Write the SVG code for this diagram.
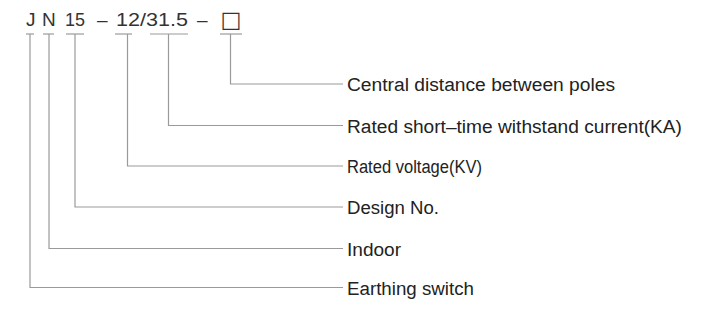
<svg xmlns="http://www.w3.org/2000/svg" width="701" height="316" viewBox="0 0 701 316">
<style>
.code{font-family:"Liberation Sans",Arial,sans-serif;font-size:19px;fill:#333}
.lbl{font-family:"Liberation Sans",Arial,sans-serif;font-size:18px;fill:#222}
.ul{stroke:#9a9a9a;stroke-width:1.2;fill:none}
.cn{stroke:#9a9a9a;stroke-width:1.2;fill:none}
</style>
<rect width="701" height="316" fill="#fff"/>
<g id="code-J"><text class="code" x="26" y="26">J</text><line class="ul" x1="26" y1="34" x2="34" y2="34"/></g>
<g id="code-N"><text class="code" x="42" y="26">N</text><line class="ul" x1="43" y1="34" x2="54" y2="34"/></g>
<g id="code-15"><text class="code" x="65" y="26" textLength="20" lengthAdjust="spacingAndGlyphs">15</text><line class="ul" x1="66" y1="34" x2="84" y2="34"/></g>
<text class="code" x="97" y="26">–</text>
<g id="code-12"><text class="code" x="116" y="26" textLength="72" lengthAdjust="spacingAndGlyphs">12/31.5</text><line class="ul" x1="115" y1="34" x2="132" y2="34"/></g>
<g id="code-31-5"><line class="ul" x1="150" y1="34" x2="188" y2="34"/></g>
<text class="code" x="197" y="26">–</text>
<g id="code-box"><text x="231" y="27" text-anchor="middle" style="font-family:'DejaVu Sans',sans-serif;font-size:22px;fill:#333">□</text><line class="ul" x1="220" y1="34" x2="242" y2="34"/></g>

<g id="connectors">
<polyline class="cn" points="230.5,34 230.5,84 343,84"/>
<polyline class="cn" points="168.5,34 168.5,125.5 343,125.5"/>
<polyline class="cn" points="127.5,34 127.5,166 343,166"/>
<polyline class="cn" points="75,34 75,207 343,207"/>
<polyline class="cn" points="49,34 49,248.5 343,248.5"/>
<polyline class="cn" points="30,34 30,287.5 343,287.5"/>
</g>

<g id="label-poles"><text class="lbl" x="347" y="91" textLength="268" lengthAdjust="spacingAndGlyphs">Central distance between poles</text></g>
<g id="label-current"><text class="lbl" x="347" y="132.5" textLength="335" lengthAdjust="spacingAndGlyphs">Rated short–time withstand current(KA)</text></g>
<g id="label-voltage"><text class="lbl" x="347" y="173" textLength="135" lengthAdjust="spacingAndGlyphs">Rated voltage(KV)</text></g>
<g id="label-design"><text class="lbl" x="347" y="214" textLength="92" lengthAdjust="spacingAndGlyphs">Design No.</text></g>
<g id="label-indoor"><text class="lbl" x="347" y="255.5" textLength="54" lengthAdjust="spacingAndGlyphs">Indoor</text></g>
<g id="label-earthing"><text class="lbl" x="347" y="294.5" textLength="127" lengthAdjust="spacingAndGlyphs">Earthing switch</text></g>
</svg>
